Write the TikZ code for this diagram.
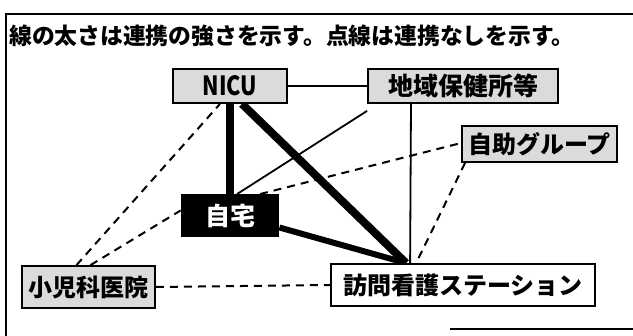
\documentclass[tikz,border=0pt]{standalone}
\usepackage{fontspec}
\setmainfont{Noto Sans CJK JP}
\usetikzlibrary{backgrounds}
\tikzset{
  box/.style={draw=black, line width=1.8pt, fill=gray!28, inner sep=0pt,
    font=\fontsize{24}{24}\selectfont\bfseries, text=black},
  bigtext/.style={font=\fontsize{25}{25}\selectfont\bfseries},
  solidthin/.style={line width=1.8pt},
  thickest/.style={line width=8pt},
  thicker/.style={line width=6pt},
  dashline/.style={line width=2pt, dash pattern=on 8pt off 6pt},
  frame/.style={line width=1.4pt}
}
\begin{document}
\begin{tikzpicture}[x=1pt,y=-1pt]
\useasboundingbox (0,0) rectangle (633,336);
% frame
\coordinate (ftl) at (6,14);
\coordinate (ftr) at (633,14);
\coordinate (fbl) at (6,336);
\coordinate (fbs) at (450,329);
\coordinate (fbe) at (633,329);
\draw[frame] (fbl) -- (ftl) -- (ftr);
\draw[frame] (fbs) -- (fbe);
% title
\node[anchor=west, inner sep=0pt, font=\fontsize{22.8}{23}\selectfont\bfseries] (title) at (9,36) {線の太さは連携の強さを示す。点線は連携なしを示す。};
% nodes
\node[box, minimum width=114pt, minimum height=34pt] (nicu) at (230,86) {\scalebox{0.9}[1.1]{NICU}};
\node[box, bigtext, minimum width=190pt, minimum height=34pt] (chiiki) at (463,86) {地域保健所等};
\node[box, minimum width=155pt, minimum height=36pt] (jijo) at (539.5,144) {自助グループ};
\node[box, bigtext, fill=black, text=white, minimum width=97pt, minimum height=41pt] (jitaku) at (230,215.5) {自宅};
\node[box, minimum width=133pt, minimum height=42pt] (shoni) at (88.5,287) {小児科医院};
\node[box, fill=white, minimum width=264pt, minimum height=42pt] (houmon) at (463,285) {訪問看護ステーション};
% connection points on the top edge of houmon
\coordinate (hv) at ([xshift=76pt]houmon.north west);
\coordinate (hv2) at ([xshift=80pt]houmon.north west);
\coordinate (hv3) at ([xshift=86pt]houmon.north west);
\begin{pgfonlayer}{background}
% solid edges
\draw[thickest] ([xshift=12pt]nicu.south) -- (hv);
\draw[thickest] (nicu.south) -- (jitaku.north);
\draw[thicker] ([yshift=-12pt]jitaku.east) -- (hv);
\draw[solidthin] (nicu.east) -- (chiiki.west);
\draw[solidthin] ([xshift=-52pt]chiiki.south) -- (hv2);
\draw[solidthin] ([yshift=-7pt]chiiki.south west) -- ([xshift=7pt]jitaku.north);
% dashed edges
\draw[dashline] ([xshift=30pt]jitaku.north) -- ([yshift=1pt]jijo.west);
\draw[dashline] ([xshift=4pt]jijo.south west) -- (hv3);
\draw[dashline] ([xshift=-12pt]shoni.north) -- ([xshift=-10pt]nicu.south);
\draw[dashline] ([xshift=2pt]shoni.north) -- ([yshift=5pt]jitaku.west);
\draw[dashline] (shoni.east) -- (houmon.west);
\end{pgfonlayer}
\end{tikzpicture}
\end{document}
